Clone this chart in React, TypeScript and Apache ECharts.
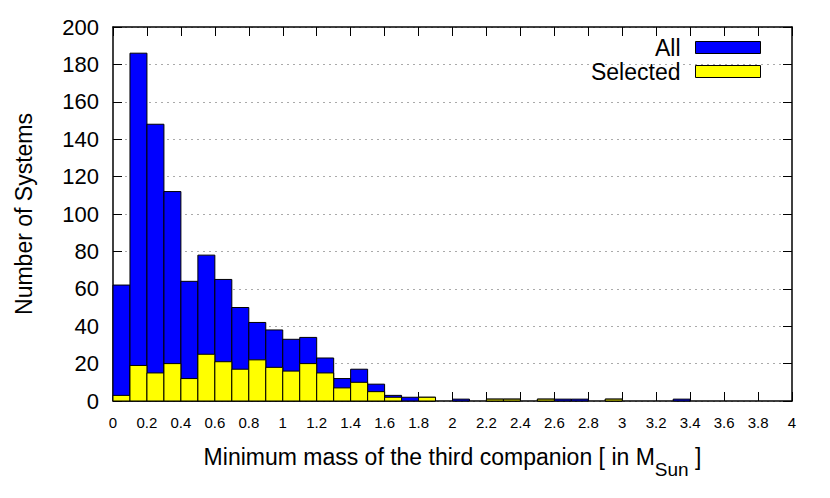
import React, { useEffect, useRef } from "react";
import * as echarts from "echarts";

const binStarts: number[] = [
  0, 0.1, 0.2, 0.3, 0.4, 0.5, 0.6, 0.7, 0.8, 0.9,
  1.0, 1.1, 1.2, 1.3, 1.4, 1.5, 1.6, 1.7, 1.8, 1.9,
  2.0, 2.1, 2.2, 2.3, 2.4, 2.5, 2.6, 2.7, 2.8, 2.9,
  3.0, 3.1, 3.2, 3.3, 3.4, 3.5, 3.6, 3.7, 3.8, 3.9,
];
const binWidth = 0.1;

const allCounts: number[] = [
  62, 186, 148, 112, 64, 78, 65, 50, 42, 38,
  33, 34, 23, 12, 17, 9, 3, 2, 2, 0,
  1, 0, 1, 1, 0, 1, 1, 1, 0, 1,
  0, 0, 0, 1, 0, 0, 0, 0, 0, 0,
];
const selectedCounts: number[] = [
  3, 19, 15, 20, 12, 25, 21, 17, 22, 18,
  16, 20, 15, 7, 10, 5, 2, 0, 2, 0,
  0, 0, 1, 1, 0, 1, 0, 0, 0, 1,
  0, 0, 0, 0, 0, 0, 0, 0, 0, 0,
];

const seriesNames = ["All", "Selected"];
const seriesColors = ["#0000ff", "#ffff00"];
const xTitle = "Minimum mass of the third companion [ in M";
const xTitleSub = "Sun";
const yTitle = "Number of Systems";

const FONT = "'Liberation Sans', Arial, Helvetica, sans-serif";

function makeData(counts: number[]) {
  return binStarts.map((s, i) => [s, +(s + binWidth).toFixed(2), counts[i]]);
}

function makeRender(color: string) {
  return (params: any, api: any) => {
    const v = api.value(2);
    if (!v) return null;
    const p0 = api.coord([api.value(0), v]);
    const p1 = api.coord([api.value(1), 0]);
    return {
      type: "rect",
      shape: { x: p0[0], y: p0[1], width: p1[0] - p0[0], height: p1[1] - p0[1] },
      style: { fill: color, stroke: "#000", lineWidth: 1 },
    };
  };
}

export default function App() {
  const ref = useRef<HTMLDivElement>(null);
  useEffect(() => {
    if (!ref.current) return;
    const chart = echarts.init(ref.current, undefined, { renderer: "svg" });
    const axisLine = { show: true, onZero: false, lineStyle: { color: "#000", width: 1.5 } };
    const tick = { show: true, inside: true, length: 9, lineStyle: { color: "#000", width: 1 } };
    chart.setOption({
      animation: false,
      textStyle: { fontFamily: FONT },
      grid: { left: 113, right: 38, top: 27, bottom: 97, outerBoundsMode: "none", containLabel: false },
      legend: {
        data: seriesNames,
        orient: "vertical",
        right: 64,
        top: 31,
        align: "right",
        icon: "rect",
        itemWidth: 65,
        itemHeight: 12,
        itemGap: 1,
        textStyle: { fontSize: 23, lineHeight: 23, color: "#000", fontFamily: FONT, padding: [0, 10, 0, 0] },
        itemStyle: { borderColor: "#000", borderWidth: 1 },
        selectedMode: false,
      },
      xAxis: [
        {
          type: "value",
          min: 0,
          max: 4,
          interval: 0.2,
          position: "bottom",
          axisLine,
          axisTick: tick,
          splitLine: { show: false },
          axisLabel: {
            color: "#000",
            fontSize: 15,
            margin: 14,
            fontFamily: FONT,
            formatter: (v: number) => String(+v.toFixed(1)),
          },
          name: `{a|${xTitle}}{b|${xTitleSub}}{a| ]}`,
          nameLocation: "middle",
          nameGap: 33,
          nameTextStyle: {
            rich: {
              a: { fontSize: 23, color: "#000", fontFamily: FONT, lineHeight: 45, verticalAlign: "middle" },
              b: { fontSize: 19, color: "#000", fontFamily: FONT, lineHeight: 19, verticalAlign: "bottom" },
            },
          },
        },
        {
          type: "value",
          min: 0,
          max: 4,
          interval: 0.2,
          position: "top",
          axisLine,
          axisTick: tick,
          splitLine: { show: false },
          axisLabel: { show: false },
        },
      ],
      yAxis: [
        {
          type: "value",
          min: 0,
          max: 200,
          interval: 20,
          position: "left",
          axisLine,
          axisTick: tick,
          axisLabel: { color: "#000", fontSize: 22, margin: 14, fontFamily: FONT },
          splitLine: { show: true, lineStyle: { color: "#aaaaaa", width: 1, type: [2, 4] } },
          name: yTitle,
          nameLocation: "middle",
          nameGap: 78,
          nameTextStyle: { fontSize: 23, color: "#000", fontFamily: FONT },
        },
        {
          type: "value",
          min: 0,
          max: 200,
          interval: 20,
          position: "right",
          axisLine,
          axisTick: tick,
          axisLabel: { show: false },
          splitLine: { show: false },
        },
      ],
      series: [
        {
          name: seriesNames[0],
          type: "custom",
          renderItem: makeRender(seriesColors[0]),
          data: makeData(allCounts),
          encode: { x: [0, 1], y: 2 },
          itemStyle: { color: seriesColors[0], borderColor: "#000", borderWidth: 1 },
          xAxisIndex: 0,
          yAxisIndex: 0,
          z: 2,
        },
        {
          name: seriesNames[1],
          type: "custom",
          renderItem: makeRender(seriesColors[1]),
          data: makeData(selectedCounts),
          encode: { x: [0, 1], y: 2 },
          itemStyle: { color: seriesColors[1], borderColor: "#000", borderWidth: 1 },
          xAxisIndex: 0,
          yAxisIndex: 0,
          z: 3,
        },
      ],
    });
    return () => chart.dispose();
  }, []);
  return (
    <div
      ref={ref}
      style={{ width: 830, height: 498, position: "absolute", left: 0, top: 0 }}
    />
  );
}
